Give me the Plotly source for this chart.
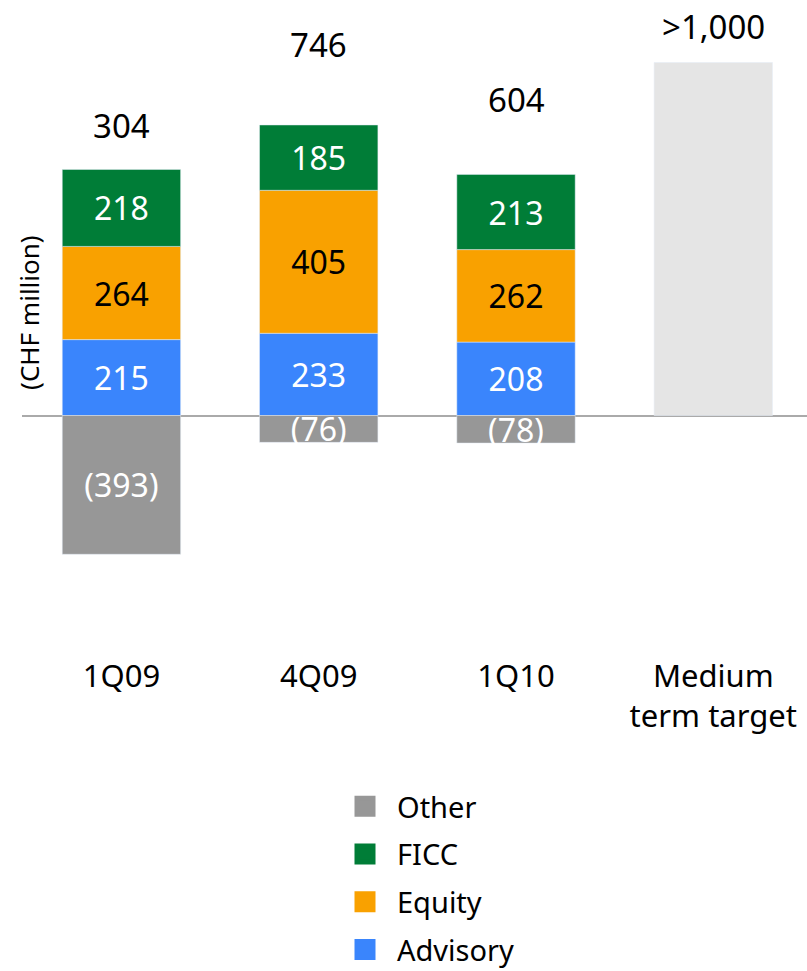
import plotly.graph_objects as go

# Quarterly revenue split by business line (CHF million)
quarters = ["1Q09", "4Q09", "1Q10"]
target_label = "Medium<br>term target"
advisory = [215, 233, 208]
equity = [264, 405, 262]
ficc = [218, 185, 213]
other = [-393, -76, -78]
totals = ["304", "746", "604"]
target_value = 1000
target_text = ">1,000"

categories = quarters + [target_label]

FONT = "Noto Sans"
C_ADV = "#3a85fc"
C_EQU = "#f9a100"
C_FICC = "#007d37"
C_OTH = "#979797"
C_TGT = "#e5e5e5"


def paren(v):
    return f"({abs(v)})" if v < 0 else str(v)


fig = go.Figure()

series = [
    ("Advisory", advisory, C_ADV, "white"),
    ("Equity", equity, C_EQU, "black"),
    ("FICC", ficc, C_FICC, "white"),
    ("Other", other, C_OTH, "white"),
]
for name, vals, color, tcolor in series:
    fig.add_trace(go.Bar(
        x=quarters, y=vals, name=name, marker_color=color,
        text=[paren(v) for v in vals], textposition="inside",
        insidetextanchor="middle", constraintext="none", textangle=0,
        textfont=dict(family=FONT, size=32, color=tcolor),
        width=0.6, showlegend=False, hoverinfo="skip",
    ))

fig.add_trace(go.Bar(
    x=[target_label], y=[target_value], marker_color=C_TGT,
    width=0.6, showlegend=False, hoverinfo="skip",
))

# legend entries (square swatches), listed top to bottom
for name, color in [("Other", C_OTH), ("FICC", C_FICC), ("Equity", C_EQU), ("Advisory", C_ADV)]:
    fig.add_trace(go.Scatter(
        x=[None], y=[None], mode="markers", name=name, legendgroup=name,
        marker=dict(symbol="square", size=16, color=color, line=dict(width=5, color=color)),
    ))

# total labels above each column
label_heights = [822, 1050, 894, 1103]
label_texts = totals + [target_text]
for cat, h, t in zip(categories, label_heights, label_texts):
    fig.add_annotation(x=cat, y=h, text=t, showarrow=False, yanchor="middle",
                       font=dict(family=FONT, size=33, color="black"))

fig.add_annotation(xref="paper", yref="paper", x=0.009, y=0.515, text="(CHF million)",
                   textangle=-90, showarrow=False, xanchor="center", yanchor="middle",
                   font=dict(family=FONT, size=26, color="black"))

fig.update_layout(
    width=807, height=971,
    margin=dict(l=22, r=0, t=0, b=326, autoexpand=False),
    barmode="relative",
    plot_bgcolor="white", paper_bgcolor="white",
    font=dict(family=FONT, color="black"),
    xaxis=dict(categoryorder="array", categoryarray=categories, range=[-0.504, 3.475],
               showgrid=False, showline=False, ticks="", tickfont=dict(size=31),
               ticklabelstandoff=10),
    yaxis=dict(range=[-650, 1177], visible=True, showgrid=False, showticklabels=False,
               ticks="", showline=False, zeroline=True, zerolinecolor="#aaaaaa",
               zerolinewidth=2),
    legend=dict(x=(333 - 22) / 785, xanchor="left", y=(645 - 781) / 645, yanchor="top",
                font=dict(family=FONT, size=29, color="black"), itemwidth=54,
                tracegroupgap=7, traceorder="grouped", bgcolor="rgba(0,0,0,0)"),
)

fig.write_html("out.html")
